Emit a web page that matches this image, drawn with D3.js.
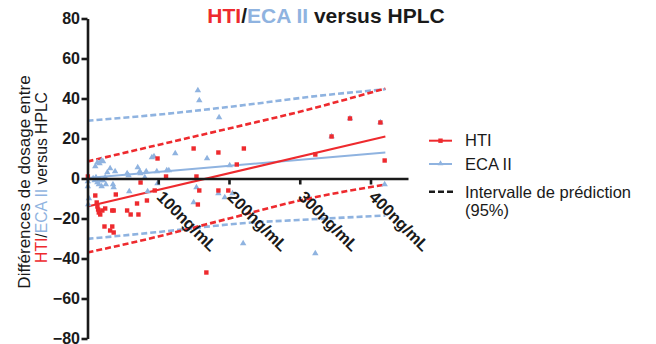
<!DOCTYPE html>
<html>
<head>
<meta charset="utf-8">
<script src="https://cdn.jsdelivr.net/npm/d3@7"></script>
<style>
  body { margin: 0; background: #fff; }
  svg { display: block; font-family: "Liberation Sans", Arial, sans-serif; }
</style>
</head>
<body>
<div id="chart"></div>
<script>
// HTI points (x = concentration ng/mL, y = difference)
const htiPts = [
  [0.5, 1], [11, -8.5], [13, -12], [14, -14], [15, -15.5], [16, -17], [18, -18], [21, -16],
  [25, -15], [35, -16], [40, -8], [37, -16], [24, -24], [32, -26], [35, -24], [37, -27],
  [56, -16], [61, -18], [70, -12.5], [72, -18], [75, -2], [84, -11], [95, -6], [99, 10],
  [111, 1], [150, 15], [154, 1], [156, -13], [158, -6], [168, -47], [185, 13], [185, -6],
  [199, -6], [211, 7], [221, 15], [322, 12], [345, 21], [371, 30], [414, 28], [420, 9]
];
// ECA II points
const ecaPts = [
  [0.5, -1.5], [0.5, -4], [2, -10], [1, -13], [11, 6], [14, 8], [17, 7.5], [20, 9], [22, 8.5],
  [8, 0], [10, -1], [12, 0.5], [14, -2], [16, -3], [18, -1], [20, -4], [22, -1], [26, -3],
  [28, 3], [32, 5], [36, -3], [37, -4.5], [39, 3.5], [25, 0.5], [56, 2.5], [58, 1.5], [59, -6.5],
  [71, 5.5], [74, 3.5], [75, 2.5], [81, 0.5], [83, 3.5], [85, -6.5], [91, 10.5], [94, 11],
  [98, 3.5], [99, -2.5], [112, 4], [115, 4], [124, 12.5], [150, -12], [154, -4.5], [156, 44],
  [158, 39], [169, 10], [186, 30.5], [185, -7.5], [194, -9.5], [201, 6.5], [205, -7.5],
  [220, -32.5], [322, -37.5], [345, 21], [371, 30], [414, 28], [420, -3]
];
// regression lines
const htiFit = [[0, -14], [421, 21]];
const ecaFit = [[0, 0.3], [421, 13]];
// 95% prediction bands
const htiUpper = [[0, 8.5], [100, 16.8], [200, 25], [300, 33.4], [421, 45]];
const htiLower = [[0, -37], [100, -29], [200, -20], [300, -11], [421, -3]];
const ecaUpper = [[0, 28.9], [96, 31.8], [219, 36.6], [328, 41.4], [421, 44.6]];
const ecaLower = [[0, -30.2], [96, -26.9], [219, -22.4], [328, -20.2], [421, -18.5]];

const xTicks = [100, 200, 300, 400];
const yTicks = [-80, -60, -40, -20, 0, 20, 40, 60, 80];

const RED = "#ee2a2e";
const BLUE = "#8fb3e0";
const INK = "#1a1a1a";

const width = 656, height = 344;

const svg = d3.select("#chart").append("svg")
    .attr("width", width)
    .attr("height", height);

const x = d3.scaleLinear().domain([0, 453]).range([87.5, 408]);
const y = d3.scaleLinear().domain([-80, 80]).range([338.5, 18.5]);

const line = d3.line().x(d => x(d[0])).y(d => y(d[1]));

// bands
function band(data, color) {
    svg.append("path")
        .datum(data)
        .attr("d", line.curve(d3.curveMonotoneX))
        .attr("fill", "none")
        .attr("stroke", color)
        .attr("stroke-width", 2.6)
        .attr("stroke-dasharray", "6,3");
}
band(ecaUpper, BLUE);
band(ecaLower, BLUE);
band(htiUpper, RED);
band(htiLower, RED);

line.curve(d3.curveLinear);
svg.append("path").datum(ecaFit).attr("d", line)
    .attr("fill", "none").attr("stroke", BLUE).attr("stroke-width", 2);
svg.append("path").datum(htiFit).attr("d", line)
    .attr("fill", "none").attr("stroke", RED).attr("stroke-width", 2);

// points
svg.append("g").selectAll("path")
    .data(ecaPts)
    .join("path")
    .attr("transform", d => `translate(${x(d[0])},${y(d[1])})`)
    .attr("d", d3.symbol(d3.symbolTriangle, 18))
    .attr("fill", BLUE);

svg.append("g").selectAll("rect")
    .data(htiPts)
    .join("rect")
    .attr("x", d => x(d[0]) - 2.2)
    .attr("y", d => y(d[1]) - 2.2)
    .attr("width", 4.4)
    .attr("height", 4.4)
    .attr("fill", RED);

// axes
function yAxis(g) {
    g.attr("transform", `translate(${x(0)},0)`)
        .call(d3.axisLeft(y).tickValues(yTicks).tickSize(6).tickPadding(1.5).tickSizeOuter(0));
    g.select(".domain").attr("stroke", INK).attr("stroke-width", 2.6);
    g.selectAll(".tick line").attr("stroke", INK).attr("stroke-width", 2.6);
    g.selectAll(".tick text")
        .attr("fill", INK)
        .attr("font-size", "16px")
        .attr("font-weight", "bold")
        .attr("font-family", "Liberation Sans, Arial, sans-serif");
}
function xAxis(g) {
    g.attr("transform", `translate(0,${y(0)})`)
        .call(d3.axisBottom(x).tickValues(xTicks).tickFormat(d => d + "ng/mL").tickSize(6).tickSizeOuter(0));
    g.select(".domain").attr("stroke", INK).attr("stroke-width", 2.6);
    g.selectAll(".tick line").attr("stroke", INK).attr("stroke-width", 2.6);
    g.selectAll(".tick text")
        .attr("x", 0).attr("y", 0).attr("dy", 0)
        .attr("transform", "translate(-3,19.5) rotate(45)")
        .attr("text-anchor", "start")
        .attr("fill", INK)
        .attr("font-size", "16.5px")
        .attr("font-weight", "bold")
        .attr("font-family", "Liberation Sans, Arial, sans-serif");
}
svg.append("g").call(yAxis);
svg.append("g").call(xAxis);

// title
const title = svg.append("text")
    .attr("x", 326).attr("y", 22.5)
    .attr("text-anchor", "middle")
    .attr("font-size", "21px")
    .attr("font-weight", "bold")
    .attr("fill", INK);
title.append("tspan").attr("fill", RED).text("HTI");
title.append("tspan").text("/");
title.append("tspan").attr("fill", BLUE).text("ECA II");
title.append("tspan").text(" versus HPLC");

// y label
svg.append("text")
    .attr("transform", "translate(30,182) rotate(-90)")
    .attr("text-anchor", "middle")
    .attr("font-size", "17px")
    .attr("fill", INK)
    .text("Différences de dosage entre");
const yl2 = svg.append("text")
    .attr("transform", "translate(46.5,177.5) rotate(-90)")
    .attr("text-anchor", "middle")
    .attr("font-size", "15.7px")
    .attr("fill", INK);
yl2.append("tspan").attr("fill", RED).text("HTI");
yl2.append("tspan").text("/");
yl2.append("tspan").attr("fill", BLUE).text("ECA II");
yl2.append("tspan").text(" versus HPLC");

// legend
const legend = svg.append("g");
const lx0 = 429, lx1 = 452, tx = 465;
legend.append("line").attr("x1", lx0).attr("x2", lx1).attr("y1", 140.7).attr("y2", 140.7)
    .attr("stroke", RED).attr("stroke-width", 2);
legend.append("rect").attr("x", 438.3).attr("y", 138.5).attr("width", 4.4).attr("height", 4.4).attr("fill", RED);
legend.append("line").attr("x1", lx0).attr("x2", lx1).attr("y1", 164).attr("y2", 164)
    .attr("stroke", BLUE).attr("stroke-width", 2);
legend.append("path").attr("transform", "translate(440.5,163.5)")
    .attr("d", d3.symbol(d3.symbolTriangle, 14)).attr("fill", BLUE);
legend.append("line").attr("x1", lx0).attr("x2", lx1 + 2).attr("y1", 191.7).attr("y2", 191.7)
    .attr("stroke", INK).attr("stroke-width", 2.4).attr("stroke-dasharray", "6,3");

const legText = [["HTI", 146], ["ECA II", 170], ["Intervalle de prédiction", 197.5], ["(95%)", 215.5]];
legend.selectAll("text.leg")
    .data(legText)
    .join("text")
    .attr("class", "leg")
    .attr("x", tx)
    .attr("y", d => d[1])
    .attr("font-size", "16.5px")
    .attr("fill", INK)
    .text(d => d[0]);
</script>
</body>
</html>
